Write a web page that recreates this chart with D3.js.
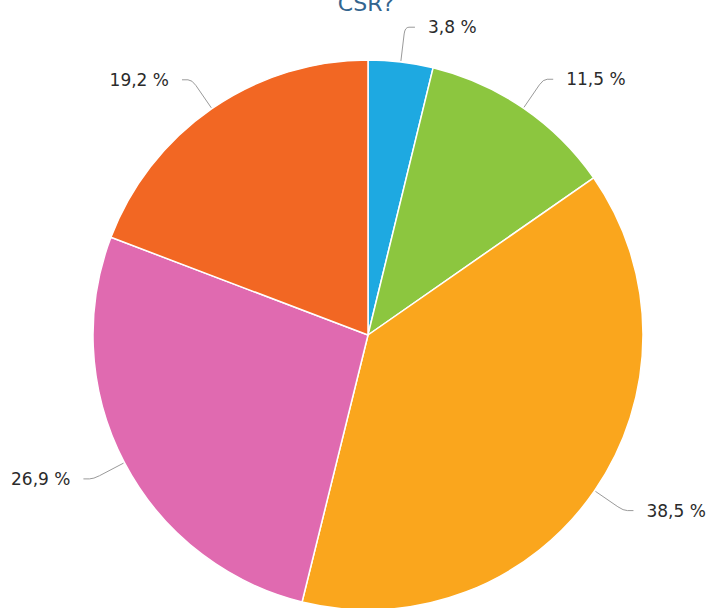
<!DOCTYPE html>
<html>
<head>
<meta charset="utf-8">
<script src="https://cdn.jsdelivr.net/npm/d3@7"></script>
<style>
  html, body { margin: 0; padding: 0; background: #fff; }
  svg { display: block; }
</style>
</head>
<body>
<svg id="chart" width="715" height="608"></svg>
<script>
const categories = ["A", "B", "C", "D", "E"];
const values = [3.8, 11.5, 38.5, 26.9, 19.2];
const labels = ["3,8 %", "11,5 %", "38,5 %", "26,9 %", "19,2 %"];
const colors = ["#1ea9e1", "#8cc63f", "#faa61d", "#e06ab0", "#f26723"];
const titleText = "CSR?";

const svg = d3.select("#chart");
const cx = 368, cy = 335, r = 275, labelR = 310;

svg.append("text")
  .attr("x", 366).attr("y", 11)
  .attr("text-anchor", "middle")
  .attr("font-family", "DejaVu Sans, sans-serif")
  .attr("font-size", 22)
  .attr("fill", "#33658f")
  .text(titleText);

const data = categories.map((c, i) => ({ cat: c, value: values[i], label: labels[i], color: colors[i] }));
const pie = d3.pie().value(d => d.value).sort(null);
const arcs = pie(data);
const arc = d3.arc().innerRadius(0).outerRadius(r);

const g = svg.append("g").attr("transform", `translate(${cx},${cy})`);
g.selectAll("path.slice").data(arcs).enter().append("path")
  .attr("class", "slice")
  .attr("d", arc)
  .attr("fill", d => d.data.color)
  .attr("stroke", "#fff")
  .attr("stroke-width", 1.5)
  .attr("stroke-linejoin", "round");

function pt(a, rad) { return [rad * Math.sin(a), -rad * Math.cos(a)]; }

arcs.forEach(d => {
  const mid = (d.startAngle + d.endAngle) / 2;
  const right = Math.sin(mid) >= 0;
  const p0 = pt(mid, r + 1);
  const b = pt(mid, labelR);
  const dir = right ? 1 : -1;
  const q = [p0[0] + (b[0] - p0[0]) * 0.8, p0[1] + (b[1] - p0[1]) * 0.8];
  const e = [b[0] + dir * 10, b[1]];
  g.append("path")
    .attr("d", `M${p0[0]},${p0[1]}L${q[0]},${q[1]}Q${b[0]},${b[1]} ${b[0] + dir * 4},${b[1]}L${e[0]},${e[1]}`)
    .attr("fill", "none")
    .attr("stroke", "#9a9a9a")
    .attr("stroke-width", 1);
  g.append("text")
    .attr("x", b[0] + dir * 23)
    .attr("y", b[1])
    .attr("dy", "0.35em")
    .attr("text-anchor", right ? "start" : "end")
    .attr("font-family", "DejaVu Sans, sans-serif")
    .attr("font-size", 17)
    .attr("fill", "#2b2b2b")
    .text(d.data.label);
});
</script>
</body>
</html>
